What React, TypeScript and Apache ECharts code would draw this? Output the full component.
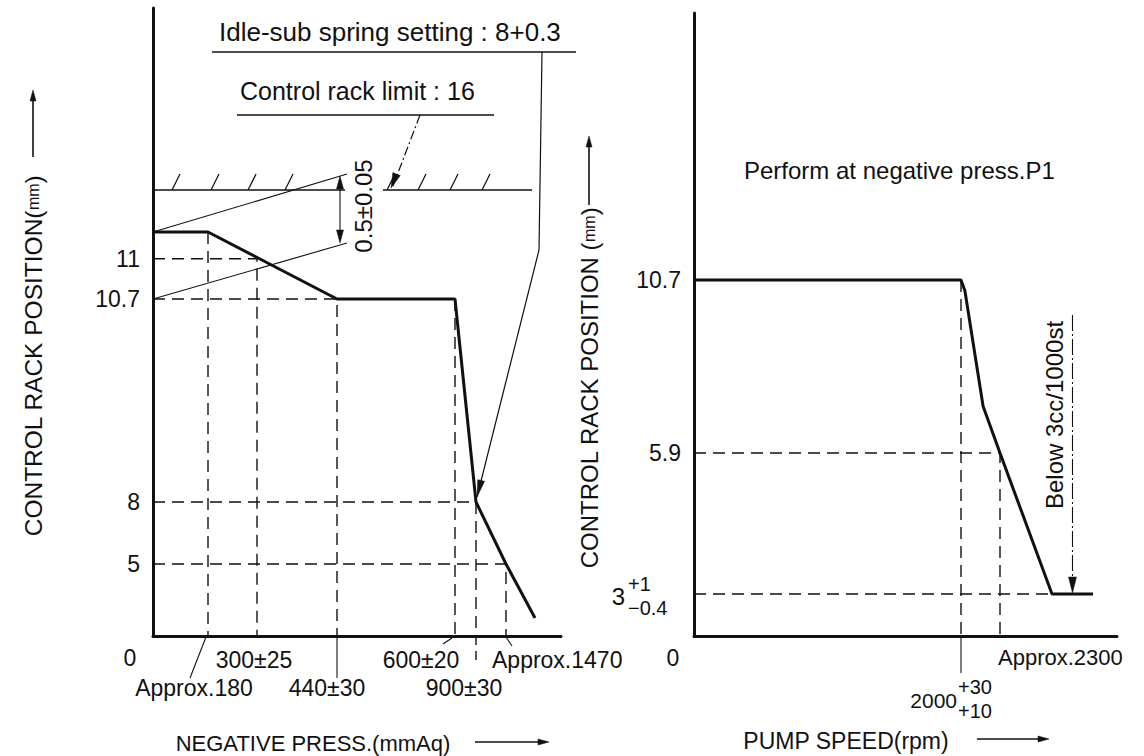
import React, { useEffect, useRef } from "react";
import * as echarts from "echarts";

// ---------------- Left chart: control rack position vs negative pressure ----------------
const pressCurve = [0, 180, 440, 600, 900, 1470, 1600]; // mmAq
const rackCurveL = [11.2, 11.2, 10.7, 10.7, 8, 5, 1.25]; // mm
const rackTicksL = [11, 10.7, 8, 5];
const rackTickLabelsL = ["11", "10.7", "8", "5"];
const pressTicks = [180, 300, 440, 600, 900, 1470];
const pressTickLabels = ["Approx.180", "300±25", "440±30", "600±20", "900±30", "Approx.1470"];
const rackLimit = 16;
const idleSubRack = 8;
const idleSubPress = 900;
const wedgeHigh = 11.2;
const wedgeLow = 10.7;

// ---------------- Right chart: control rack position vs pump speed ----------------
const speedCurve = [0, 2000, 2030, 2170, 2300, 2700, 3000]; // rpm
const rackCurveR = [10.7, 10.7, 10.4, 7.2, 5.9, 3, 3]; // mm
const rackTicksR = [10.7, 5.9];
const rackTickLabelsR = ["10.7", "5.9"];
const speedTicks = [2000, 2300];
const below3ccSpeed = 2850;
const below3ccRack = 3;

// schematic (non-linear) axis breakpoints: value -> axis position
const pressScale = [[0, 0], [180, 55], [300, 104], [440, 184], [600, 302], [900, 323], [1470, 353], [1600, 382], [1700, 408]];
const rackScaleL = [[0, 0], [5, 72], [8, 134], [10.7, 337], [11.2, 404], [16, 446], [20, 628]];
const speedScale = [[0, 0], [2000, 267], [2300, 306], [2700, 358], [3000, 399], [3200, 423]];
const rackScaleR = [[0, 0], [3, 42], [5.9, 183], [10.7, 356], [20, 623]];

function pw(scale: number[][], v: number): number {
  for (let i = 1; i < scale.length; i++) {
    const [v0, p0] = scale[i - 1];
    const [v1, p1] = scale[i];
    if (v <= v1 || i === scale.length - 1) return p0 + ((v - v0) * (p1 - p0)) / (v1 - v0);
  }
  return 0;
}
const xL = (v: number) => pw(pressScale, v);
const yL = (v: number) => pw(rackScaleL, v);
const xR = (v: number) => pw(speedScale, v);
const yR = (v: number) => pw(rackScaleR, v);

const INK = "#111";
const SANS = "'Liberation Sans', Arial, Helvetica, sans-serif";

function guide(pts: number[][], gi: number, fx: (v: number) => number, fy: (v: number) => number) {
  return {
    type: "line",
    xAxisIndex: gi,
    yAxisIndex: gi,
    data: pts.map(([a, b]) => [fx(a), fy(b)]),
    symbol: "none",
    silent: true,
    z: 2,
    lineStyle: { color: INK, width: 1.4, type: [12, 7] },
  };
}

function xAxisOf(gi: number, max: number) {
  return {
    gridIndex: gi,
    type: "value",
    min: 0,
    max,
    axisLine: { show: true, onZero: false, lineStyle: { color: INK, width: 3 } },
    axisTick: { show: false },
    axisLabel: { show: false },
    splitLine: { show: false },
  };
}

function yAxisOf(gi: number, max: number, ticks: number[], labels: string[], fy: (v: number) => number) {
  return {
    gridIndex: gi,
    type: "value",
    min: 0,
    max,
    axisLine: { show: true, onZero: false, lineStyle: { color: INK, width: 3 } },
    axisTick: { show: false },
    splitLine: { show: false },
    axisLabel: {
      show: true,
      customValues: ticks.map(fy),
      formatter: (v: number) => {
        const i = ticks.findIndex((t) => Math.abs(fy(t) - v) < 0.01);
        return i >= 0 ? labels[i] : "";
      },
      color: INK,
      fontSize: 23,
      fontFamily: SANS,
      margin: 13,
    },
  };
}

function buildOption() {
  const curveL = pressCurve.map((p, i) => [xL(p), yL(rackCurveL[i])]);
  const curveR = speedCurve.map((s, i) => [xR(s), yR(rackCurveR[i])]);
  const [t180, t300, t440, t600, t900, t1470] = pressTicks;
  const [t2000, t2300] = speedTicks;
  return {
    animation: false,
    backgroundColor: "#fff",
    grid: [
      { left: 153, top: 8, width: 408, height: 628 },
      { left: 694, top: 13, width: 423, height: 623 },
    ],
    xAxis: [xAxisOf(0, 408), xAxisOf(1, 423)],
    yAxis: [
      yAxisOf(0, 628, rackTicksL, rackTickLabelsL, yL),
      yAxisOf(1, 623, rackTicksR, rackTickLabelsR, yR),
    ],
    series: [
      guide([[0, 11], [t300, 11], [t300, 0]], 0, xL, yL),
      guide([[t180, wedgeHigh], [t180, 0]], 0, xL, yL),
      guide([[0, 10.7], [t440, 10.7], [t440, 0]], 0, xL, yL),
      guide([[t600, 10.7], [t600, 0]], 0, xL, yL),
      guide([[0, 8], [t900, 8], [t900, 0]], 0, xL, yL),
      guide([[0, 5], [t1470, 5], [t1470, 0]], 0, xL, yL),
      guide([[t2000, 10.7], [t2000, 0]], 1, xR, yR),
      guide([[0, 5.9], [t2300, 5.9], [t2300, 0]], 1, xR, yR),
      guide([[0, 3], [2700, 3]], 1, xR, yR),
      {
        type: "line",
        xAxisIndex: 0,
        yAxisIndex: 0,
        data: curveL,
        symbol: "none",
        silent: true,
        z: 5,
        lineStyle: { color: INK, width: 3 },
      },
      {
        type: "line",
        xAxisIndex: 1,
        yAxisIndex: 1,
        data: curveR,
        symbol: "none",
        silent: true,
        z: 5,
        lineStyle: { color: INK, width: 3 },
      },
    ],
  };
}

// ---------- graphic helpers ----------
function ln(x1: number, y1: number, x2: number, y2: number, w = 1.2, dash?: number[]) {
  return {
    type: "line",
    silent: true,
    z: 10,
    shape: { x1, y1, x2, y2 },
    style: { stroke: INK, lineWidth: w, lineDash: dash, fill: null },
  };
}
function poly(points: number[][], w = 1.2, dash?: number[]) {
  return {
    type: "polyline",
    silent: true,
    z: 10,
    shape: { points },
    style: { stroke: INK, lineWidth: w, lineDash: dash, fill: null },
  };
}
function head(tx: number, ty: number, fx: number, fy: number, len = 13, half = 4) {
  const dx = tx - fx;
  const dy = ty - fy;
  const d = Math.hypot(dx, dy) || 1;
  const ux = dx / d;
  const uy = dy / d;
  const bx = tx - ux * len;
  const by = ty - uy * len;
  return {
    type: "polygon",
    silent: true,
    z: 11,
    shape: { points: [[tx, ty], [bx - uy * half, by + ux * half], [bx + uy * half, by - ux * half]] },
    style: { fill: INK, stroke: INK, lineWidth: 0.5 },
  };
}
function txt(
  x: number,
  y: number,
  text: string,
  size: number,
  align = "center",
  rotation = 0,
  rich?: any
) {
  return {
    type: "text",
    silent: true,
    z: 12,
    x,
    y,
    rotation,
    style: {
      text,
      x: 0,
      y: 0,
      fill: INK,
      fontSize: size,
      fontFamily: SANS,
      align,
      verticalAlign: "middle",
      textAlign: align,
      textVerticalAlign: "middle",
      rich,
    },
  };
}

function buildGraphic(chart: any) {
  const P0 = (x: number, y: number) => chart.convertToPixel({ gridIndex: 0 }, [xL(x), yL(y)]) as number[];
  const P1 = (x: number, y: number) => chart.convertToPixel({ gridIndex: 1 }, [xR(x), yR(y)]) as number[];
  const els: any[] = [];

  // ---- left chart: rack limit hatched line ----
  const [, y16] = P0(0, rackLimit);
  const x0 = P0(0, 0)[0];
  els.push(ln(x0, y16, 345, y16, 1.3), ln(383, y16, 532, y16, 1.3));
  [176, 215, 252, 289, 391, 422, 454, 486].forEach((hx) => els.push(ln(hx - 4, y16, hx + 4, y16 - 16, 1.3)));

  // wedge lines & 0.5 dimension
  const wa = P0(0, wedgeHigh);
  const wb = P0(0, wedgeLow);
  els.push(ln(wa[0], wa[1], 347, y16 - 16, 1.1), ln(wb[0], wb[1], 347, y16 + 53, 1.1));
  els.push(ln(340, y16 - 4, 340, y16 + 43, 1.1));
  els.push(head(340, y16 - 14, 340, y16 + 10, 13, 3.5), head(340, y16 + 53, 340, y16 + 30, 13, 3.5));
  els.push(txt(363, y16 + 16, "0.5±0.05", 24, "center", Math.PI / 2));

  // Idle-sub spring setting annotation
  els.push(txt(219, 32, "Idle-sub spring setting : 8+0.3", 26, "left"));
  els.push(ln(212, 52, 576, 52, 1.3));
  const tip = P0(idleSubPress, idleSubRack);
  const tipX = tip[0] + 1;
  const tipY = tip[1] - 5;
  els.push(poly([[542, 52], [539, 250], [tipX, tipY]], 1.2));
  els.push(head(tipX, tipY, 539, 250, 17, 3.5));

  // Control rack limit annotation
  els.push(txt(240, 91, "Control rack limit : 16", 25, "left"));
  els.push(ln(237, 115, 494, 115, 1.3));
  els.push(ln(420, 115, 393, y16 - 4, 1.2, [9, 3, 2, 3]));
  els.push(head(391, y16 - 2, 420, 115, 15, 4));

  // ---- left chart: x labels & leaders ----
  const o0 = P0(0, 0);
  els.push(txt(o0[0] - 23, o0[1] + 22, "0", 23, "center"));
  const layoutL = [
    { dx: -14, dy: 52, align: "center" },
    { dx: -3, dy: 24, align: "center" },
    { dx: -10, dy: 52, align: "center" },
    { dx: -34, dy: 24, align: "center" },
    { dx: -12, dy: 52, align: "center" },
    { dx: -14, dy: 24, align: "left" },
  ];
  pressTicks.forEach((t, i) => {
    const p = P0(t, 0);
    const l = layoutL[i];
    els.push(txt(p[0] + l.dx, p[1] + l.dy, pressTickLabels[i], 23, l.align));
  });
  const a180 = P0(pressTicks[0], 0);
  els.push(ln(a180[0] - 2, a180[1] + 1, a180[0] - 18, a180[1] + 42, 1.1));
  const a440 = P0(pressTicks[2], 0);
  els.push(ln(a440[0], a440[1], a440[0], a440[1] + 42, 1.1));
  const a600 = P0(pressTicks[3], 0);
  els.push(ln(a600[0] - 3, a600[1] + 2, a600[0] - 12, a600[1] + 8, 1.1));
  const a900 = P0(pressTicks[4], 0);
  els.push(ln(a900[0], a900[1], a900[0], a900[1] + 28, 1.4, [9, 6]));
  const a1470 = P0(pressTicks[5], 0);
  els.push(ln(a1470[0], a1470[1] + 1, a1470[0] + 6, a1470[1] + 10, 1.1));

  // axis titles (left)
  els.push(txt(313, 743, "NEGATIVE PRESS.(mmAq)", 22, "center"));
  els.push(ln(475, 742, 540, 742, 1.4), head(549, 742, 475, 742, 11, 3));
  els.push(
    txt(33, 356, "CONTROL RACK POSITION({s|mm})", 24.5, "center", Math.PI / 2, {
      s: { fontSize: 16, fontFamily: SANS, fill: INK },
    })
  );
  els.push(ln(33, 157, 33, 100, 1.6), head(33, 90, 33, 157, 11, 3));

  // ---- right chart ----
  const o1 = P1(0, 0);
  els.push(txt(o1[0] - 21, o1[1] + 22, "0", 23, "center"));
  const p3 = P1(0, 3);
  els.push(txt(p3[0] - 69, p3[1] + 2, "3", 24, "right"));
  els.push(txt(p3[0] - 66, p3[1] - 10, "+1", 20, "left"));
  els.push(txt(p3[0] - 66, p3[1] + 14, "−0.4", 20, "left"));

  const s2000 = P1(speedTicks[0], 0);
  els.push(ln(s2000[0], s2000[1], s2000[0], s2000[1] + 37, 1.1));
  els.push(txt(s2000[0] - 4, s2000[1] + 64, "2000", 21, "right"));
  els.push(txt(s2000[0] - 3, s2000[1] + 51, "+30", 20, "left"));
  els.push(txt(s2000[0] - 3, s2000[1] + 75, "+10", 20, "left"));
  const s2300 = P1(speedTicks[1], 0);
  els.push(txt(s2300[0] - 2, s2300[1] + 21, "Approx.2300", 22, "left"));

  els.push(txt(744, 170, "Perform at negative press.P1", 24, "left"));

  const b = P1(below3ccSpeed, below3ccRack);
  els.push(ln(b[0], 315, b[0], b[1] - 10, 1.1, [16, 3, 2, 3]));
  els.push(head(b[0], b[1] - 1, b[0], 315, 16, 4));
  els.push(txt(b[0] - 18, 415, "Below 3cc/1000st", 24, "center", Math.PI / 2));

  els.push(txt(846, 741, "PUMP SPEED(rpm)", 23, "center"));
  els.push(ln(977, 739, 1040, 739, 1.4), head(1049, 739, 977, 739, 11, 3));
  els.push(
    txt(589, 388, "CONTROL RACK POSITION ({s|mm})", 24, "center", Math.PI / 2, {
      s: { fontSize: 16, fontFamily: SANS, fill: INK },
    })
  );
  els.push(ln(589, 205, 589, 146, 1.6), head(589, 136, 589, 205, 11, 3));

  return els;
}

export default function App() {
  const ref = useRef<HTMLDivElement>(null);
  useEffect(() => {
    const el = ref.current;
    if (!el) return;
    const chart = echarts.init(el, null, { renderer: "svg" });
    chart.setOption(buildOption() as any);
    chart.setOption({ graphic: buildGraphic(chart) } as any);
    return () => chart.dispose();
  }, []);
  return (
    <div
      ref={ref}
      style={{ position: "fixed", left: 0, top: 0, width: 1144, height: 756, background: "#fff" }}
    />
  );
}
